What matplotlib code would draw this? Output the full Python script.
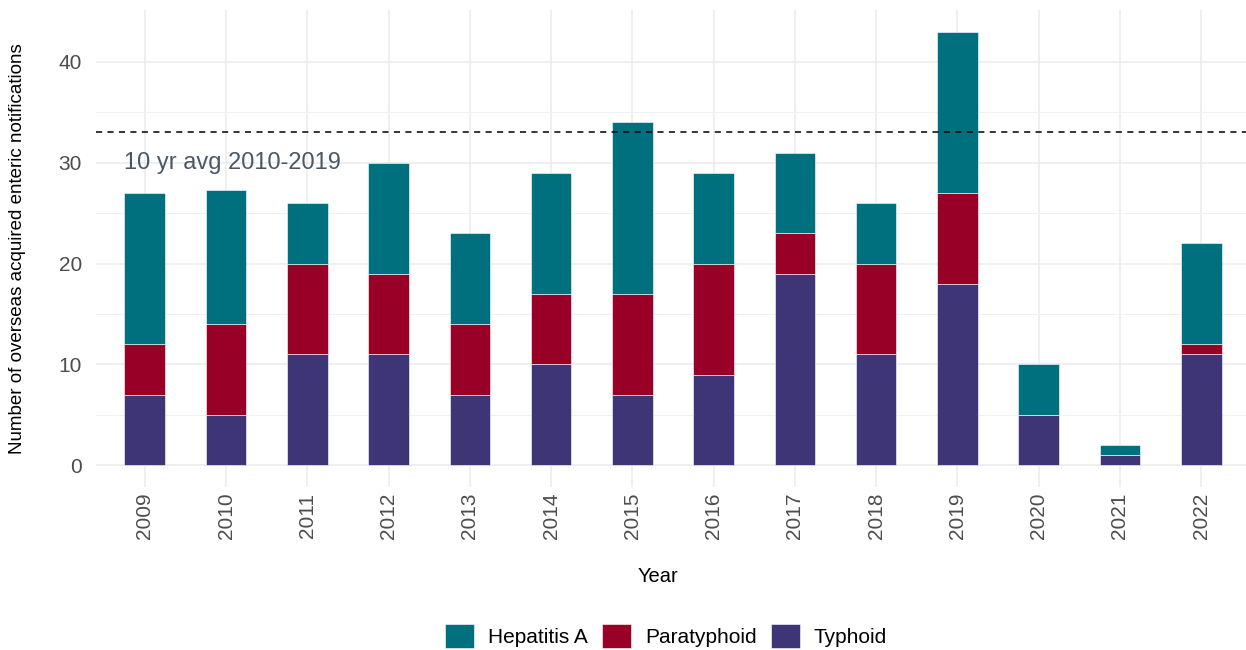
import matplotlib
matplotlib.use('Agg')
import matplotlib.pyplot as plt
import numpy as np

# ==================== data ====================
years = ['2009', '2010', '2011', '2012', '2013', '2014', '2015',
         '2016', '2017', '2018', '2019', '2020', '2021', '2022']
typhoid = [7, 5, 11, 11, 7, 10, 7, 9, 19, 11, 18, 5, 1, 11]
paratyphoid = [5, 9, 9, 8, 7, 7, 10, 11, 4, 9, 9, 0, 0, 1]
hepatitis_a = [15, 13.3, 6, 11, 9, 12, 17, 9, 8, 6, 16, 5, 1, 10]
avg_10yr = 33.1
avg_label = '10 yr avg 2010-2019'

col_typh = '#3D3576'
col_para = '#990027'
col_hep = '#00707F'

plt.rcParams['font.family'] = ['Liberation Sans', 'DejaVu Sans']

W, H = 1246, 650
fig = plt.figure(figsize=(W / 100, H / 100), dpi=100)
ax = fig.add_axes([96 / W, 1 - 487 / H, (1250 - 96) / W, 477 / H])

x = np.arange(len(years))
typ = np.array(typhoid, dtype=float)
par = np.array(paratyphoid, dtype=float)
hep = np.array(hepatitis_a, dtype=float)

bw = 0.5
ekw = dict(edgecolor='white', linewidth=0.4, zorder=3)
ax.bar(x, typ, bw, color=col_typh, label='Typhoid', **ekw)
ax.bar(x, par, bw, bottom=typ, color=col_para, label='Paratyphoid', **ekw)
ax.bar(x, hep, bw, bottom=typ + par, color=col_hep, label='Hepatitis A', **ekw)

ax.axhline(avg_10yr, color='black', linestyle=(0, (4, 3.5)), linewidth=1.1, zorder=4)
ax.text(-0.25, 30, avg_label, fontsize=17, color='#4A5866', ha='left', va='center', zorder=5)

# axes limits / grid (ggplot minimal look)
ax.set_xlim(-0.6, len(years) - 0.4)
tot_max = (typ + par + hep).max()
ax.set_ylim(-0.05 * tot_max, 1.05 * tot_max)
ax.set_xticks(x)
ax.set_xticklabels(years, rotation=90)
ax.set_yticks([0, 10, 20, 30, 40])
ax.set_yticks([5, 15, 25, 35], minor=True)
ax.grid(which='major', color='#EBEBEB', linewidth=1.1, zorder=0)
ax.grid(which='minor', axis='y', color='#F0F0F0', linewidth=0.8, zorder=0)
ax.set_axisbelow(True)
for s in ax.spines.values():
    s.set_visible(False)
ax.tick_params(axis='both', which='both', length=0, labelsize=15, labelcolor='#4D4D4D')
ax.tick_params(axis='y', pad=10)
ax.tick_params(axis='x', pad=4)

fig.text(18 / W, 1 - 249 / H, 'Number of overseas acquired enteric notifications',
         rotation=90, ha='center', va='center', fontsize=13.5, color='black')
fig.text(658 / W, 1 - 577 / H, 'Year', ha='center', va='center', fontsize=14.5, color='black')

handles, labels = ax.get_legend_handles_labels()
order = [2, 1, 0]
fig.legend([handles[i] for i in order], [labels[i] for i in order],
           loc='center', bbox_to_anchor=(666 / W, 1 - 636 / H), ncol=3, frameon=False,
           fontsize=15, handlelength=1.4, handleheight=1.4, handletextpad=0.67,
           columnspacing=0.67)

fig.savefig('out.png', dpi=100)
